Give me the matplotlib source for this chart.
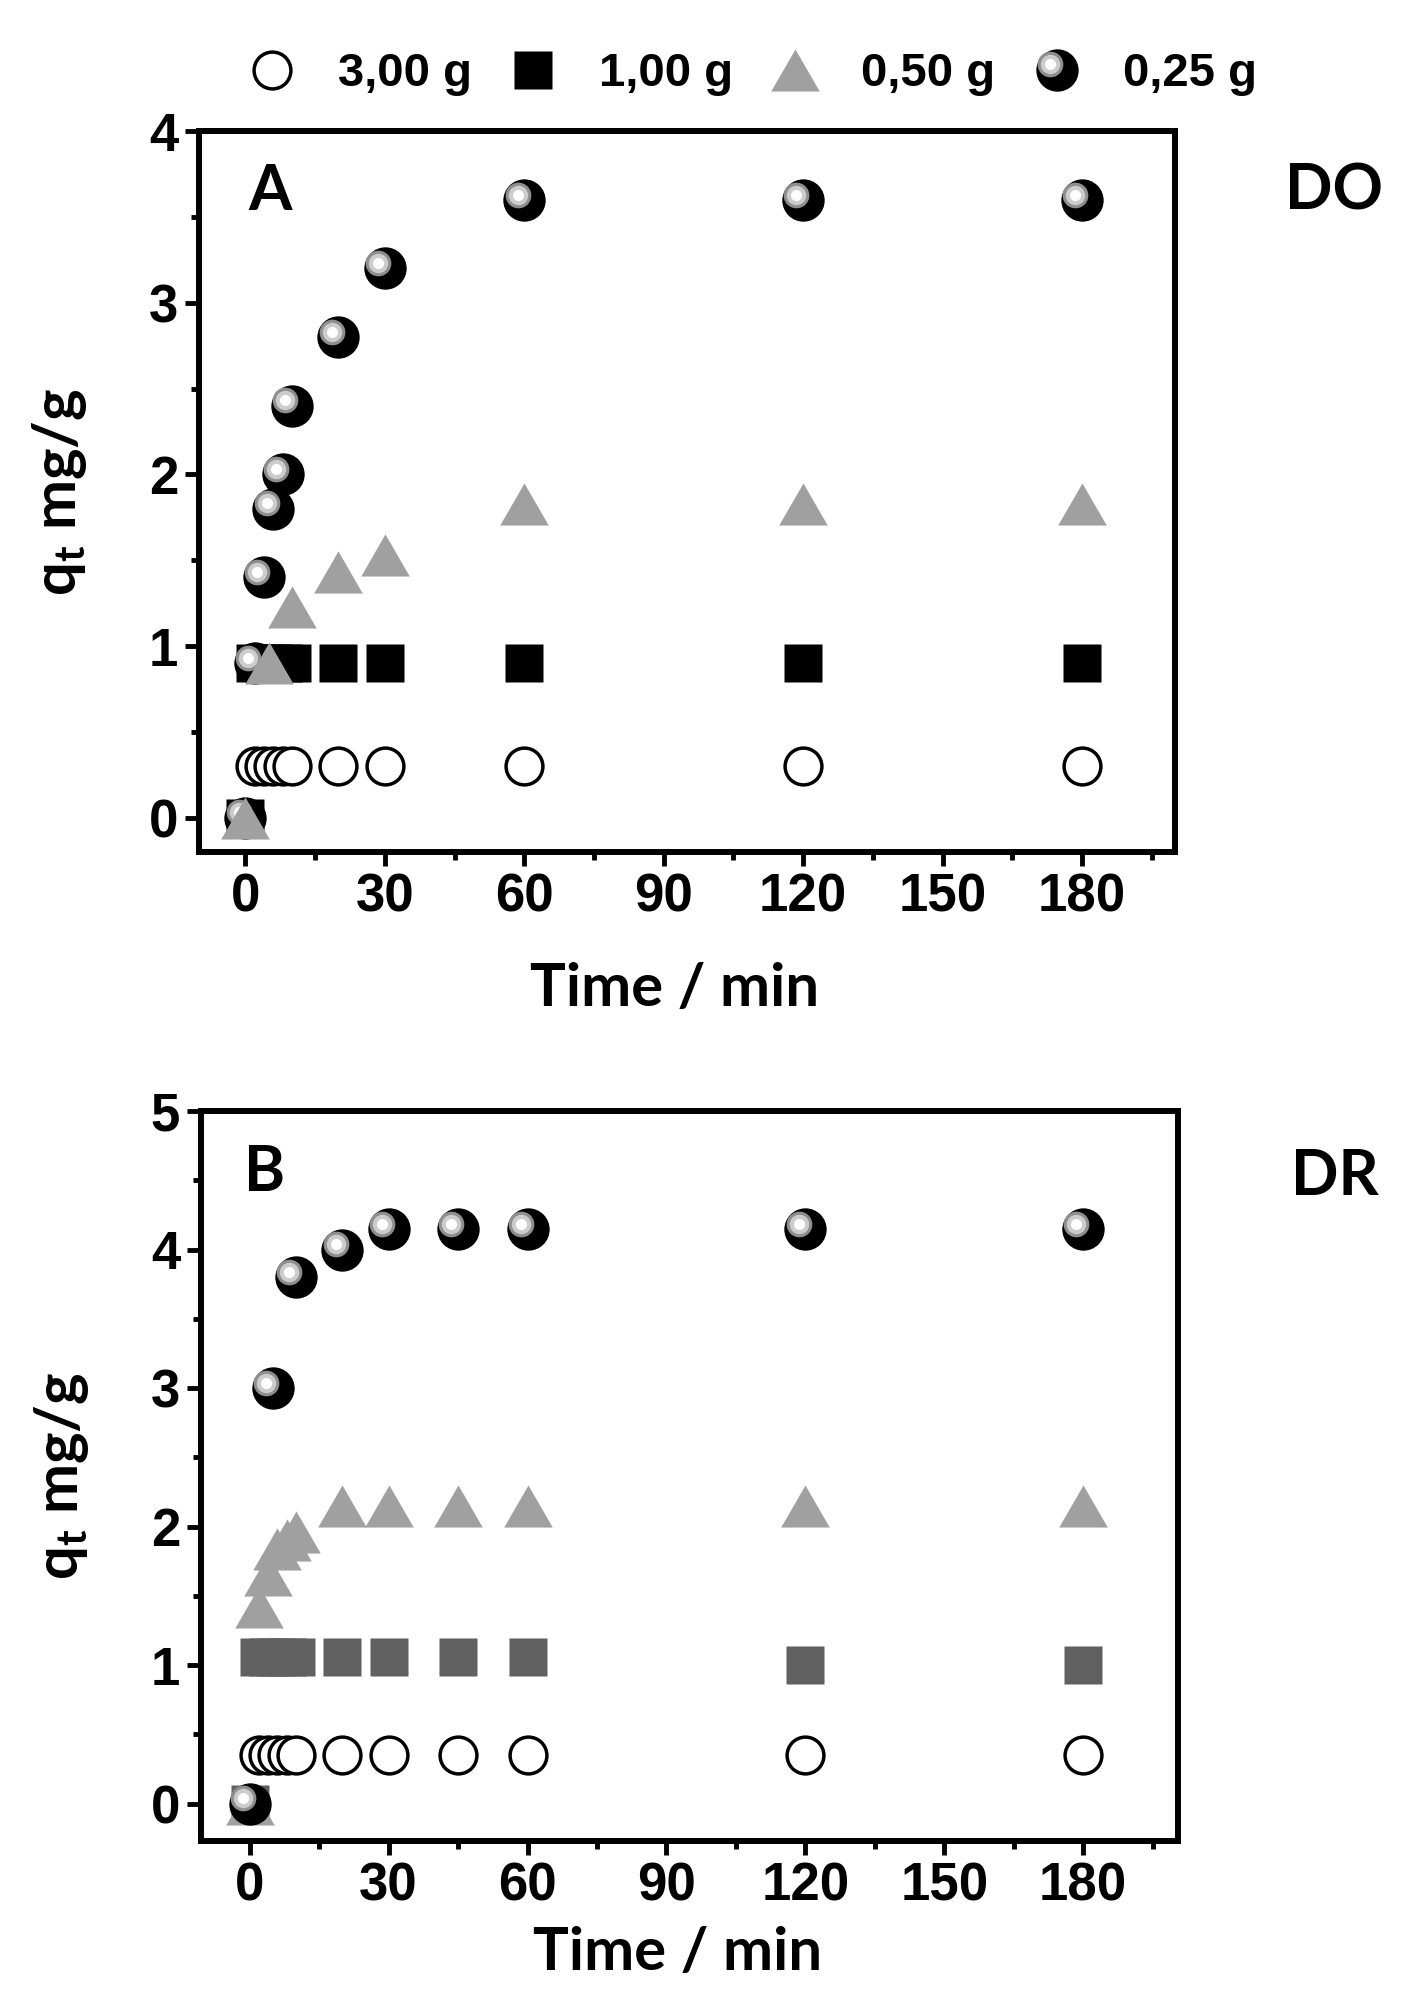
import matplotlib
matplotlib.use('Agg')
import matplotlib.pyplot as plt
import matplotlib.transforms as mtransforms
from matplotlib.path import Path
from matplotlib.ticker import MultipleLocator
from matplotlib.legend_handler import HandlerLine2D, HandlerTuple

plt.rcParams['font.family'] = ['Liberation Sans', 'DejaVu Sans']
plt.rcParams['font.weight'] = 'bold'
plt.rcParams['mathtext.default'] = 'regular'

# ---- data ----
legend_labels = ['3,00 g', '1,00 g', '0,50 g', '0,25 g']

# A : DO
t_do = [0, 2, 4, 6, 8, 10, 20, 30, 60, 120, 180]
q_do_300 = [0, 0.3, 0.3, 0.3, 0.3, 0.3, 0.3, 0.3, 0.3, 0.3, 0.3]
q_do_100 = [0, 0.9, 0.9, 0.9, 0.9, 0.9, 0.9, 0.9, 0.9, 0.9, 0.9]
t_do_050 = [0, 5, 10, 20, 30, 60, 120, 180]
q_do_050 = [0, 0.9, 1.23, 1.43, 1.53, 1.83, 1.83, 1.83]
q_do_025 = [0, 0.9, 1.4, 1.8, 2.0, 2.4, 2.8, 3.2, 3.6, 3.6, 3.6]

# B : DR
t_dr = [0, 2, 4, 6, 8, 10, 20, 30, 45, 60, 120, 180]
q_dr_300 = [0, 0.35, 0.35, 0.35, 0.35, 0.35, 0.35, 0.35, 0.35, 0.35, 0.35, 0.35]
q_dr_100 = [0, 1.06, 1.06, 1.06, 1.06, 1.06, 1.06, 1.06, 1.06, 1.06, 1.0, 1.0]
q_dr_050 = [0, 1.42, 1.65, 1.84, 1.90, 1.96, 2.15, 2.15, 2.15, 2.15, 2.15, 2.15]
t_dr_025 = [0, 5, 10, 20, 30, 45, 60, 120, 180]
q_dr_025 = [0, 3.0, 3.8, 4.0, 4.15, 4.15, 4.15, 4.15, 4.15]

# equilateral-ish triangle marker
tri = Path([(-1, -0.866), (1, -0.866), (0, 0.866), (-1, -0.866)],
           [Path.MOVETO, Path.LINETO, Path.LINETO, Path.CLOSEPOLY])

fig = plt.figure(figsize=(14.09, 20.02), dpi=100)
ax1 = fig.add_axes([0.1412, 0.5744, 0.6927, 0.3601])
ax2 = fig.add_axes([0.1427, 0.0804, 0.6934, 0.3646])

HL_DX, HL_DY = -4.8, 3.8  # highlight offset (points)


def circles(ax, t, q, z):
    return ax.plot(t, q, 'o', ms=26.5, mfc='white', mec='black', mew=2.5, ls='none', zorder=z)[0]


def squares(ax, t, q, c, z):
    return ax.plot(t, q, 's', ms=27.5, mfc=c, mec='none', ls='none', zorder=z)[0]


def triangles(ax, t, q, z):
    return ax.plot(t, q, marker=tri, ms=35, mfc='#a0a0a0', mec='none', ls='none', zorder=z)[0]


def spheres(ax, t, q, z):
    shift = mtransforms.offset_copy(ax.transData, fig=fig, x=HL_DX, y=HL_DY, units='points')
    layers = [ax.plot(t, q, 'o', ms=30.5, mfc='black', mec='none', ls='none', zorder=z)[0]]
    for k, (s, c) in enumerate([(18.5, '#8e8e8e'), (14, '#cccccc'), (8, 'white')]):
        layers.append(ax.plot(t, q, 'o', ms=s, mfc=c, mec='none', ls='none',
                              transform=shift, zorder=z + 0.1 * (k + 1))[0])
    return layers


# panel A: circles, squares, spheres, triangles
h_c = circles(ax1, t_do, q_do_300, 3)
h_s = squares(ax1, t_do, q_do_100, 'black', 4)
h_b = spheres(ax1, t_do, q_do_025, 5)
h_t = triangles(ax1, t_do_050, q_do_050, 6)

# panel B: circles, squares, triangles, spheres
circles(ax2, t_dr, q_dr_300, 3)
squares(ax2, t_dr, q_dr_100, '#606060', 4)
triangles(ax2, t_dr, q_dr_050, 5)
spheres(ax2, t_dr_025, q_dr_025, 6)

ax1.set_xlim(-10, 200)
ax1.set_ylim(-0.2, 4)
ax2.set_xlim(-10.5, 200.5)
ax2.set_ylim(-0.27, 5)

label_font = dict(family=['Lato', 'DejaVu Sans'], weight='bold', size=43)
for ax in (ax1, ax2):
    ax.xaxis.set_major_locator(MultipleLocator(30))
    ax.xaxis.set_minor_locator(MultipleLocator(15))
    ax.yaxis.set_major_locator(MultipleLocator(1))
    ax.yaxis.set_minor_locator(MultipleLocator(0.5))
    ax.tick_params(which='both', direction='out', width=3.5, top=False, right=False,
                   labelsize=38)
    ax.tick_params(which='major', length=10, pad=5)
    ax.tick_params(which='minor', length=6)
    for sp in ax.spines.values():
        sp.set_linewidth(4.3)
    ax.set_xlabel('Time / min', fontdict=label_font)
    ax.set_ylabel(r'q$_\mathregular{t}$ mg/g', fontdict=label_font)
    ax.yaxis.set_label_coords(-0.113, 0.5)

ax1.xaxis.set_label_coords(0.4877, -0.152)
ax2.xaxis.set_label_coords(0.4877, -0.116)

panel_font = dict(family=['Lato', 'DejaVu Sans'], weight='bold', size=45)
ax1.text(0.0727, 0.891, 'A', transform=ax1.transAxes, ha='center', va='baseline', fontdict=panel_font)
ax1.text(1.163, 0.891, 'DO', transform=ax1.transAxes, ha='center', va='baseline', fontdict=panel_font)
ax2.text(0.0655, 0.890, 'B', transform=ax2.transAxes, ha='center', va='baseline', fontdict=panel_font)
ax2.text(1.161, 0.885, 'DR', transform=ax2.transAxes, ha='center', va='baseline', fontdict=panel_font)


class ShiftedHandler(HandlerLine2D):
    # draws the legend marker shifted, for the sphere highlight
    def __init__(self, dx, dy):
        super().__init__()
        self.dx, self.dy = dx, dy

    def create_artists(self, legend, orig_handle, xdescent, ydescent, width, height, fontsize, trans):
        arts = super().create_artists(legend, orig_handle, xdescent, ydescent, width, height,
                                      fontsize, trans)
        shift = mtransforms.ScaledTranslation(self.dx / 72, self.dy / 72, legend.figure.dpi_scale_trans)
        for a in arts:
            a.set_transform(a.get_transform() + shift)
        return arts


hmap = {tuple(h_b): HandlerTuple(ndivide=1, pad=0)}
for layer in h_b[1:]:
    hmap[layer] = ShiftedHandler(HL_DX, HL_DY)

fig.legend([h_c, h_s, h_t, tuple(h_b)], legend_labels, handler_map=hmap,
           loc='center', bbox_to_anchor=(0.534, 0.963), ncol=4, frameon=False,
           numpoints=1, handlelength=1.0, handletextpad=0.9, columnspacing=0.8,
           prop=dict(family=['Liberation Sans', 'DejaVu Sans'], weight='bold', size=34))

fig.savefig('out.png', dpi=100)
